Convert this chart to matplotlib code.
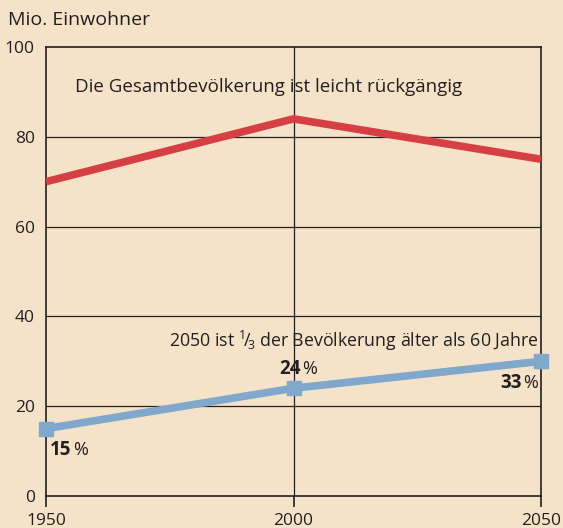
import matplotlib.pyplot as plt
from matplotlib.offsetbox import TextArea, HPacker, AnnotationBbox

plt.rcParams['font.family'] = ['Open Sans', 'DejaVu Sans']
plt.rcParams['mathtext.fontset'] = 'custom'
plt.rcParams['mathtext.rm'] = 'Open Sans'
plt.rcParams['mathtext.it'] = 'Open Sans'

# data
years = [1950, 2000, 2050]
total = [70, 84, 75]          # Mio. Einwohner gesamt
older = [15, 24, 30]          # Mio. Einwohner ueber 60
shares = ['15', '24', '33']   # Anteil in %

bg = '#f5e3c9'
red = '#d64045'
blue = '#7fa8cc'
ink = '#231f20'

fig = plt.figure(figsize=(5.63, 5.28), dpi=100, facecolor=bg)
ax = fig.add_axes([46/563, 32/528, 495/563, 449/528], facecolor=bg)

ax.set_xlim(1950, 2050)
ax.set_ylim(0, 100)
ax.set_xticks(years)
ax.set_yticks([0, 20, 40, 60, 80, 100])
ax.tick_params(axis='y', length=0, pad=8, labelsize=12.5, colors=ink)
ax.tick_params(axis='x', length=8, width=1.2, pad=4, labelsize=12.5, colors=ink)
for s in ax.spines.values():
    s.set_color(ink)
    s.set_linewidth(1.2)

# grid
for yv in [20, 40, 60, 80]:
    ax.axhline(yv, color=ink, lw=0.9, zorder=1)
ax.axvline(2000, color=ink, lw=0.9, zorder=1)

ax.plot(years, total, color=red, lw=5.5, solid_capstyle='butt', zorder=3)
ax.plot(years, older, color=blue, lw=5.5, marker='s', markersize=10,
        solid_capstyle='butt', zorder=3, clip_on=False)

ax.text(1955.9, 91.2, 'Die Gesamtbevölkerung ist leicht rückgängig',
        fontsize=13.5, color=ink, va='center')
ax.text(2049.5, 34.6, r'2050 ist $^{1}\!/\!_{3}$ der Bevölkerung älter als 60 Jahre',
        fontsize=12.8, color=ink, va='center', ha='right')

# percent labels
offs = [(1950.8, 10.2, 0), (1997.2, 28.3, 0), (2049.4, 25.2, 1)]
for (x, y, xb), s in zip(offs, shares):
    a = TextArea(s, textprops=dict(fontsize=13.5, fontweight='bold', color=ink))
    b = TextArea('%', textprops=dict(fontsize=13, color=ink))
    box = HPacker(children=[a, b], sep=1, pad=0, align='baseline')
    ab = AnnotationBbox(box, (x, y), box_alignment=(xb, 0.5), frameon=False,
                        pad=0, zorder=4)
    ax.add_artist(ab)

fig.text(8/563, 1 - 20/528, 'Mio. Einwohner', fontsize=14, color=ink,
         va='center', ha='left')

fig.savefig('out.png', dpi=100, facecolor=bg)
